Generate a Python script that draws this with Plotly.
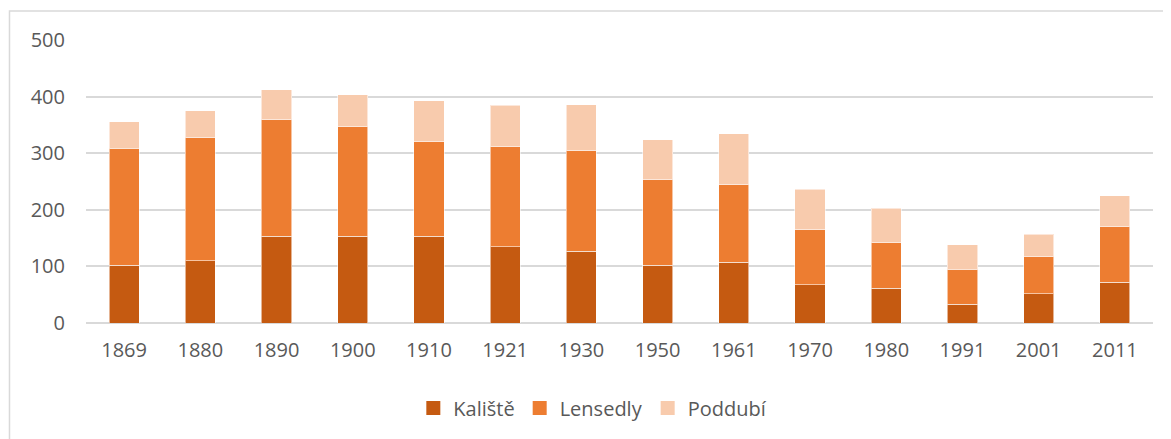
import plotly.graph_objects as go

years = ["1869", "1880", "1890", "1900", "1910", "1921", "1930",
         "1950", "1961", "1970", "1980", "1991", "2001", "2011"]
kaliste = [102, 110, 153, 153, 153, 135, 127, 102, 107, 68, 61, 33, 52, 72]
lensedly = [207, 217, 206, 194, 167, 176, 177, 151, 137, 97, 81, 62, 65, 98]
poddubi = [47, 48, 53, 56, 73, 74, 82, 71, 90, 71, 61, 43, 40, 55]

series = [
    ("Kaliště", kaliste, "#C55A11"),
    ("Lensedly", lensedly, "#ED7D31"),
    ("Poddubí", poddubi, "#F8CBAD"),
]

font_family = "Open Sans"
grey = "#595959"

fig = go.Figure()
for name, vals, color in series:
    fig.add_trace(go.Bar(
        name=name, x=years, y=vals, showlegend=False,
        marker=dict(color=color, line=dict(color="rgba(255,255,255,0.55)", width=1)),
    ))
# legend entries with larger square swatches
for name, vals, color in series:
    fig.add_trace(go.Scatter(
        name=name, x=[None], y=[None], mode="markers",
        marker=dict(symbol="square", size=14, color=color),
    ))

# page body has an 8px margin, so the figure is offset by that much
fig.update_layout(
    barmode="stack",
    bargap=0.605,
    width=1163, height=431,
    margin=dict(l=78, r=18, t=32, b=116),
    paper_bgcolor="white",
    plot_bgcolor="white",
    font=dict(family=font_family, size=20, color=grey),
    legend=dict(
        orientation="h", x=0.475, xanchor="center", y=-0.30, yanchor="middle",
        font=dict(size=20, color=grey), itemwidth=30, traceorder="normal",
    ),
    xaxis=dict(
        showgrid=False, ticks="", showline=False,
        ticklabelstandoff=13,
    ),
    yaxis=dict(
        range=[0, 500], tickvals=[0, 100, 200, 300, 400, 500],
        showgrid=True, gridcolor="#D9D9D9", gridwidth=1.5,
        zeroline=True, zerolinecolor="#D9D9D9", zerolinewidth=1.5,
        ticks="", showline=False, ticklabelstandoff=20,
    ),
    shapes=[
        dict(type="rect", xref="paper", yref="paper",
             x0=-0.0717, x1=1.2, y0=-1.0, y1=1.1025,
             line=dict(color="#D9D9D9", width=1.5), layer="below"),
    ],
)

fig.write_html("out.html")
